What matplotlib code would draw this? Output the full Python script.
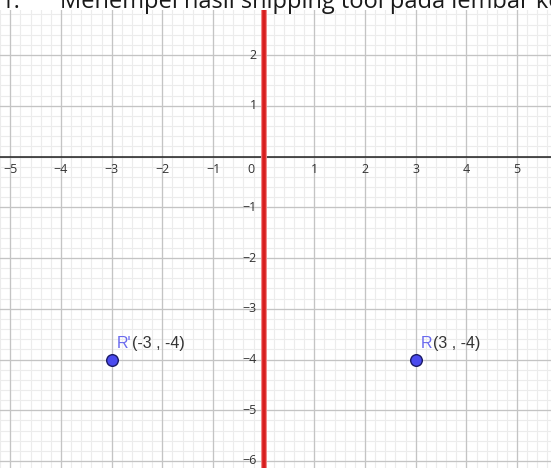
import matplotlib
matplotlib.use("Agg")
import matplotlib.pyplot as plt
import numpy as np

# Data
point_names = ["R'", "R"]
point_x = [-3, 3]
point_y = [-4, -4]
mirror_x = 0
x_ticks = [-5, -4, -3, -2, -1, 1, 2, 3, 4, 5]
y_ticks = [-6, -5, -4, -3, -2, -1, 1, 2]
title_num = "1."
title = "Menempel hasil shipping tool pada lembar kerja"

xlim = (-5.204, 5.67)
ylim = (-6.138, 2.887)

fig = plt.figure(figsize=(5.51, 4.68), dpi=100)
ax = fig.add_axes([0, 0, 1, 458 / 468])
ax.set_xlim(*xlim)
ax.set_ylim(*ylim)
for s in ax.spines.values():
    s.set_visible(False)
ax.set_xticks([])
ax.set_yticks([])

# grid
minor_x = np.arange(-5.2, 5.8, 0.2)
minor_y = np.arange(-6.2, 3.0, 0.2)
for v in minor_x:
    ax.axvline(v, color="#ececec", lw=0.8, zorder=0)
for v in minor_y:
    ax.axhline(v, color="#ececec", lw=0.8, zorder=0)
for v in range(-5, 6):
    ax.axvline(v, color="#c4c4c4", lw=0.9, zorder=1)
for v in range(-6, 3):
    ax.axhline(v, color="#c4c4c4", lw=0.9, zorder=1)

# axes
ax.axhline(0, color="#222222", lw=1.1, zorder=2)
ax.axvline(mirror_x, color="#f08080", lw=4.2, zorder=3)
ax.axvline(mirror_x, color="#d81e1e", lw=2.6, zorder=3)

lab_font = dict(family=["Open Sans", "DejaVu Sans"], fontsize=9, color="#333333")
for t in x_ticks:
    s = str(t).replace("-", "\u2212")
    ax.annotate(s, (t, 0), xytext=(0, -9.5), textcoords="offset points",
                ha="center", va="center", **lab_font)
ax.annotate("0", (0, 0), xytext=(-9, -9.5), textcoords="offset points",
            ha="center", va="center", **lab_font)
for t in y_ticks:
    s = str(t).replace("-", "\u2212")
    ax.annotate(s, (0, t), xytext=(-5, 0), textcoords="offset points",
                ha="right", va="center", **lab_font)

# points
ax.scatter(point_x, point_y, s=70, color="#4a4aee", edgecolor="#1a1a66",
           linewidth=1.0, zorder=5)
for name, px, py in zip(point_names, point_x, point_y):
    coord = "(%d , %d)" % (px, py)
    t = ax.annotate(name, (px, py), xytext=(3.5, 11.5), textcoords="offset points",
                    ha="left", va="center", color="#6a6aee",
                    family=["Liberation Sans"], fontsize=11.5, zorder=6)
    ax.annotate(coord, xy=(1, 0.5), xycoords=t, xytext=(1, 0),
                textcoords="offset points", ha="left", va="center",
                color="#333333", family=["Liberation Sans"], fontsize=11.5, zorder=6)

# header text, cut off at the top like in the source screenshot
head_font = dict(family=["Open Sans", "DejaVu Sans"], fontsize=17, color="#1a1a1a",
                 va="baseline", ha="left")
fig.text(1 / 551, 1 - 8 / 468, title_num, **head_font)
fig.text(60 / 551, 1 - 8 / 468, title, **head_font)

fig.savefig("out.png", dpi=100)
